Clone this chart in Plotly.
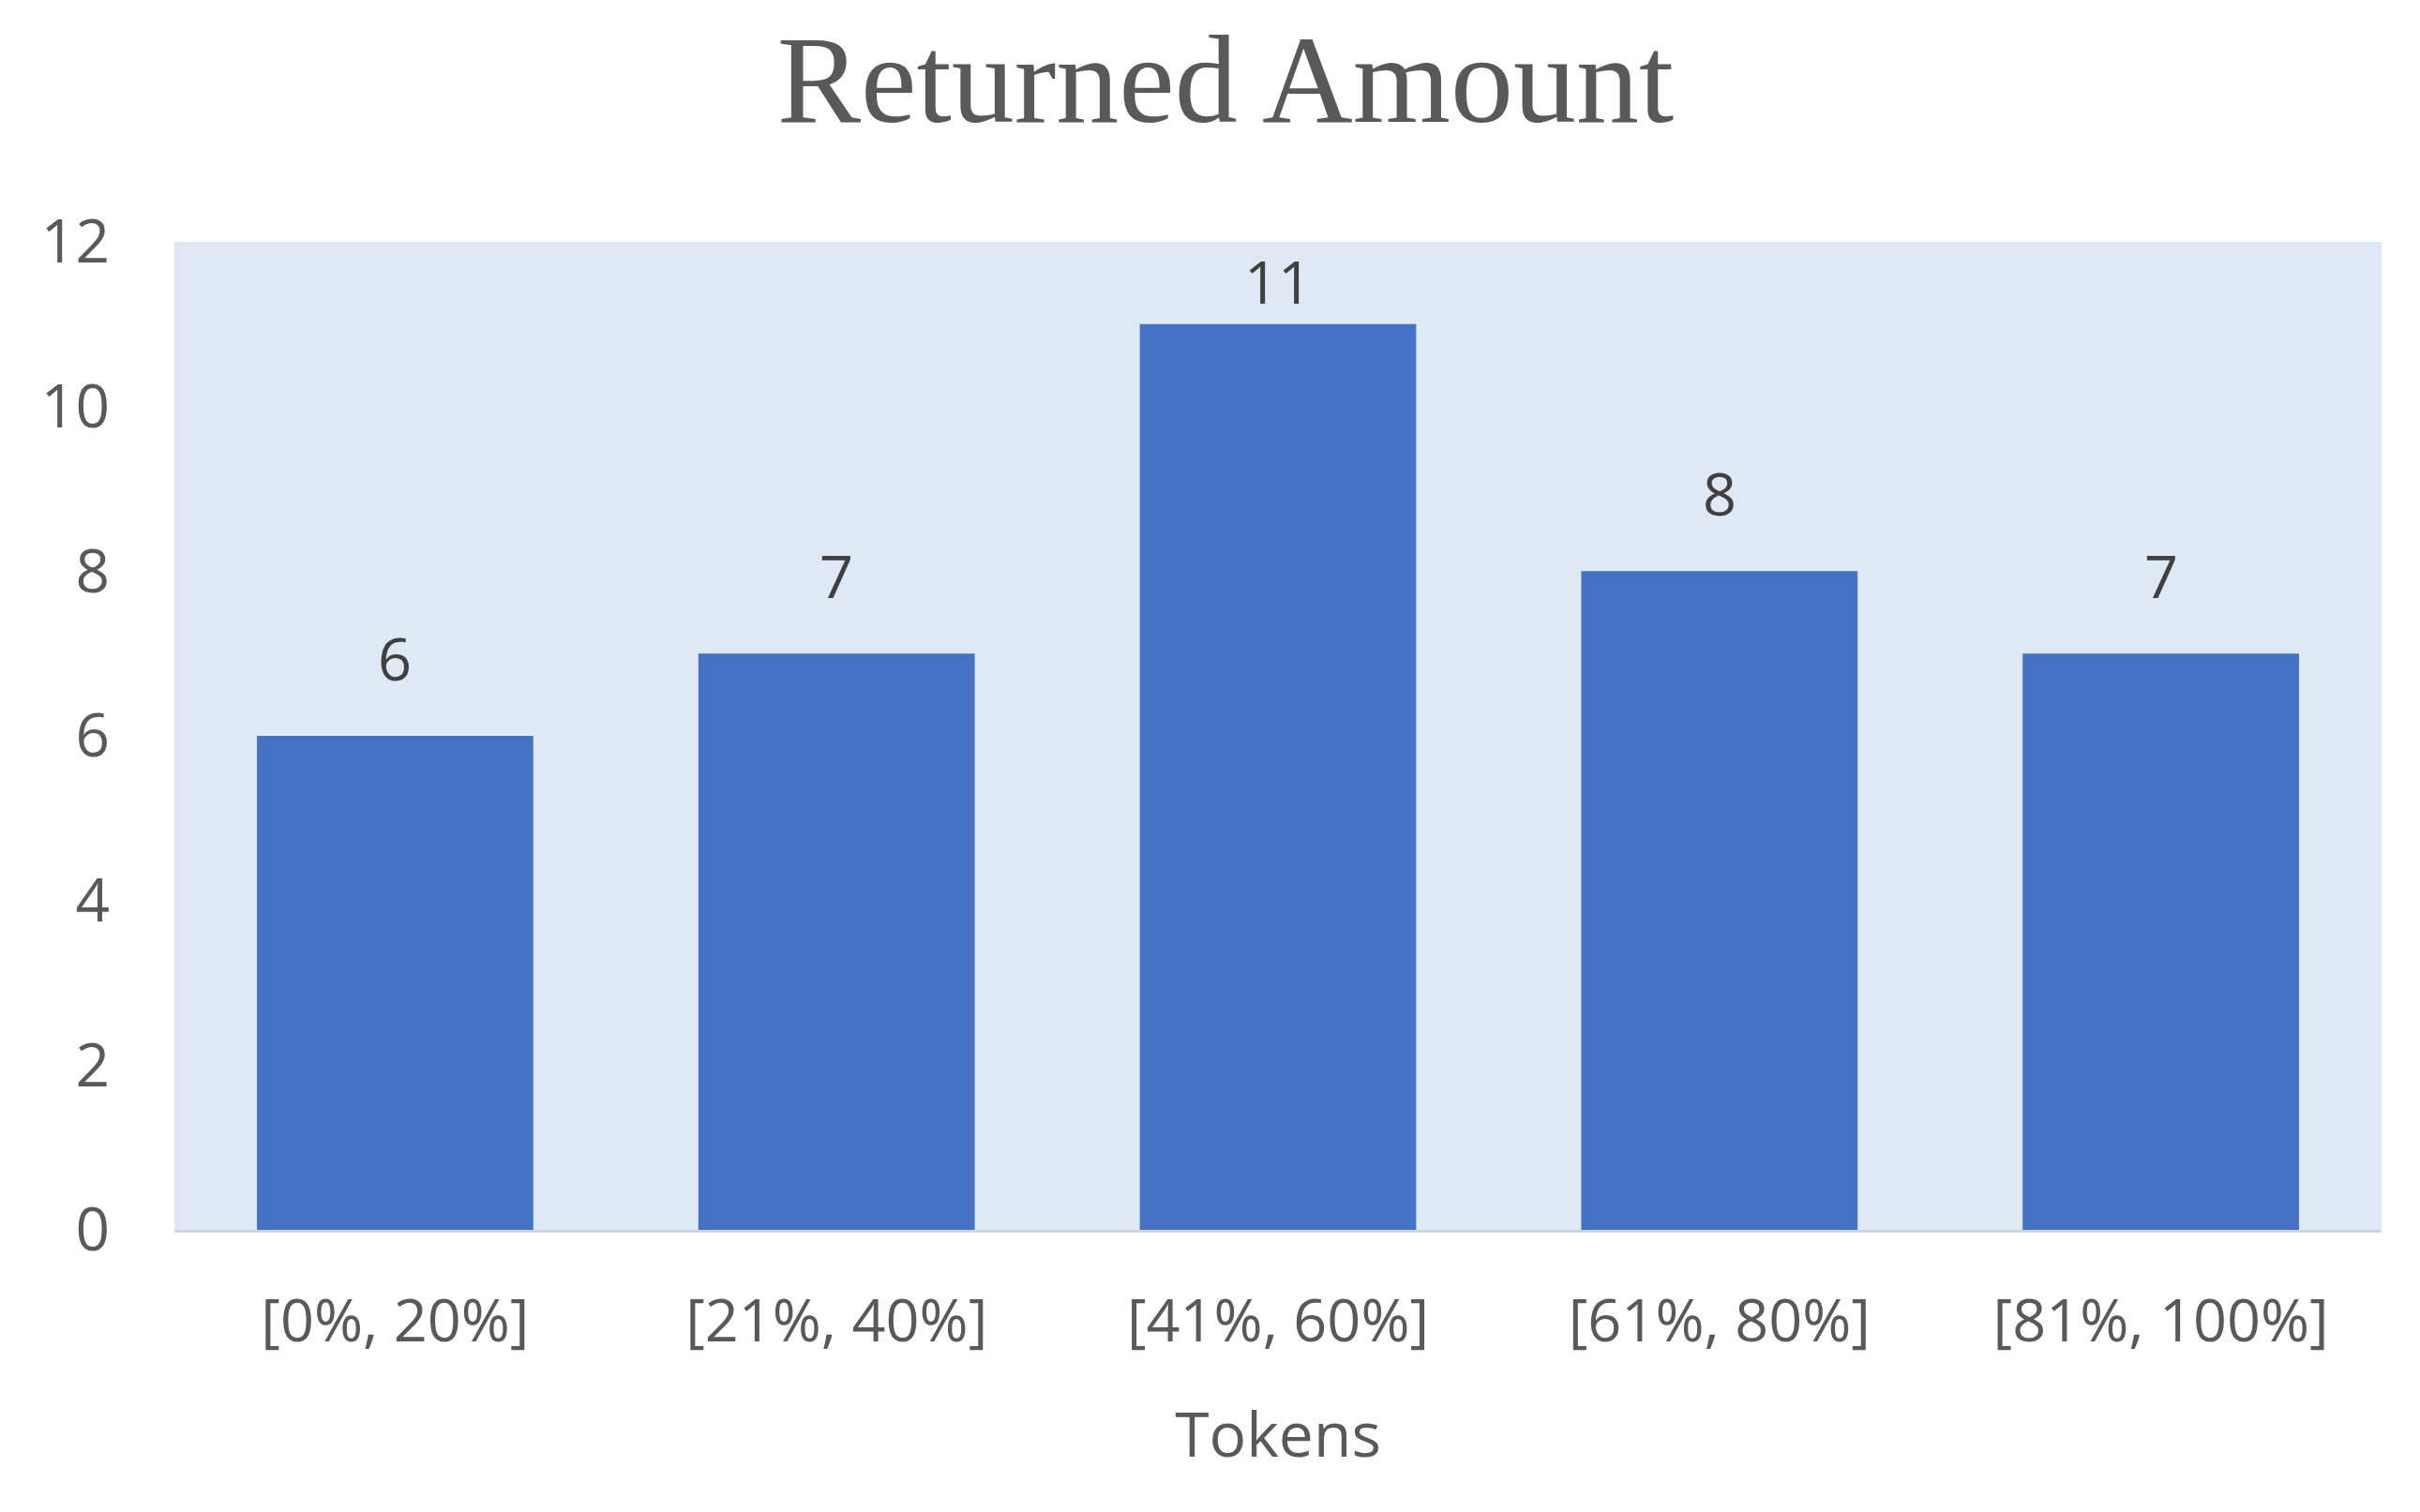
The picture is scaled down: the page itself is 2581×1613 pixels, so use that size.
import plotly.graph_objects as go

categories = ["[0%, 20%]", "[21%, 40%]", "[41%, 60%]", "[61%, 80%]", "[81%, 100%]"]
returned = [6, 7, 11, 8, 7]
y_ticks = [0, 2, 4, 6, 8, 10, 12]

W, H = 2565, 1597
margin = dict(l=178, r=33, t=250, b=293)
y_max = 12
px_per_unit = (H - margin["t"] - margin["b"]) / y_max

fig = go.Figure()
fig.add_trace(
    go.Bar(
        x=categories,
        y=returned,
        marker=dict(color="#4472c4", line_width=0),
        showlegend=False,
        hoverinfo="x+y",
    )
)

# labels sit above the bars, but are kept inside the plot area like Excel does
for cat, val in zip(categories, returned):
    shift = min(84, (y_max - val) * px_per_unit - 42)
    fig.add_annotation(
        x=cat,
        y=val,
        text=str(val),
        showarrow=False,
        yanchor="middle",
        yshift=shift,
        font=dict(family="Open Sans", size=63, color="#404040"),
    )

fig.update_layout(
    width=W,
    height=H,
    paper_bgcolor="white",
    plot_bgcolor="#dfe8f5",
    margin=margin,
    bargap=0.374,
    title=dict(
        text="Returned Amount",
        x=0.5064,
        xanchor="center",
        y=0.953,
        yanchor="middle",
        font=dict(family="Liberation Serif", size=134, color="#595959"),
    ),
    font=dict(family="Open Sans", color="#595959"),
    xaxis=dict(
        title=dict(text="Tokens", font=dict(size=66, color="#595959"), standoff=61),
        tickfont=dict(size=63, color="#595959"),
        showline=True,
        linecolor="#d0d6de",
        linewidth=3,
        ticks="",
        ticklabelstandoff=40,
    ),
    yaxis=dict(
        range=[0, y_max],
        tickvals=y_ticks,
        tickfont=dict(size=64, color="#595959"),
        showgrid=False,
        zeroline=False,
        ticks="",
        ticklabelstandoff=68,
    ),
)

fig.write_html("out.html")
